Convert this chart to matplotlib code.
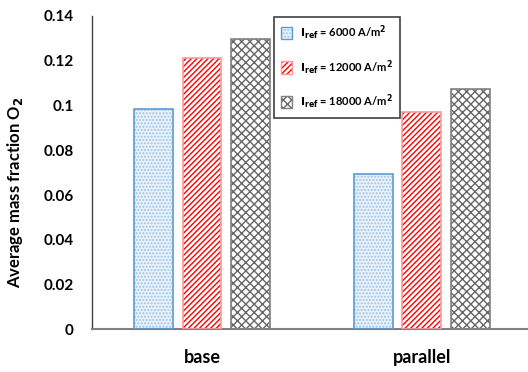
import numpy as np
import matplotlib
matplotlib.use('Agg')
import matplotlib.pyplot as plt
from matplotlib.legend_handler import HandlerTuple

plt.rcParams['font.family'] = ['Lato', 'DejaVu Sans']
plt.rcParams['font.weight'] = 'bold'
plt.rcParams['hatch.linewidth'] = 1.0

# dati: frazione di massa media O2 per configurazione e corrente di riferimento
configs = ['base', 'parallel']
serie_labels = [r'$\mathbf{I_{ref}}$ = 6000 A/m$^\mathbf{2}$',
                r'$\mathbf{I_{ref}}$ = 12000 A/m$^\mathbf{2}$',
                r'$\mathbf{I_{ref}}$ = 18000 A/m$^\mathbf{2}$']
i6000 = [0.0983, 0.0692]
i12000 = [0.1212, 0.0969]
i18000 = [0.1297, 0.1072]

valori = [i6000, i12000, i18000]
facce = ['#EAF3FB', 'white', 'white']
tratti = ['#9DC3E6', 'red', '#666666']
bordi = ['#5B9BD5', '#FF9999', '#7F7F7F']
hatches = ['.....', '//////', 'xxxx']

fig = plt.figure(figsize=(5.28, 3.72), dpi=100)
ax = fig.add_axes([0.1742, 0.1148, 0.8333, 0.8422])

x = np.arange(len(configs))
larghezza = 0.177
passo = 0.222
handles = []
for k, (v, hc, fc, ec) in enumerate(zip(valori, hatches, facce, bordi)):
    b = ax.bar(x + (k - 1) * passo, v, larghezza, color=fc, edgecolor=tratti[k],
               hatch=hc, linewidth=0, zorder=2)
    # bordo separato dal colore del tratteggio
    for r in b:
        ax.add_patch(plt.Rectangle(r.get_xy(), r.get_width(), r.get_height(),
                                   fill=False, edgecolor=ec, linewidth=1.2, zorder=3))
    bordo_leg = plt.Rectangle((0, 0), 1, 1, fill=False, edgecolor=ec, linewidth=1.0)
    handles.append((b.patches[0], bordo_leg))

ax.set_xlim(-0.5, 1.5)
ax.set_ylim(0, 0.14)
ax.set_yticks(np.arange(0, 0.141, 0.02))
ax.set_yticklabels(['0', '0.02', '0.04', '0.06', '0.08', '0.1', '0.12', '0.14'],
                   fontsize=11, fontweight='bold')
ax.set_xticks(x)
ax.set_xticklabels(configs, fontsize=13, fontweight='bold')
ax.tick_params(axis='both', length=0)
ax.tick_params(axis='y', pad=13)
ax.tick_params(axis='x', pad=14)

ax.set_ylabel(r'Average mass fraction O$_\mathbf{2}$', fontsize=12, fontweight='bold')
ax.yaxis.set_label_coords(-0.153, 0.438)

ax.spines['top'].set_visible(False)
ax.spines['right'].set_visible(False)
ax.spines['left'].set_color('#404040')
ax.spines['bottom'].set_color('#808080')
ax.spines['left'].set_linewidth(1.0)
ax.spines['bottom'].set_linewidth(1.5)

leg = ax.legend(handles, serie_labels, handler_map={tuple: HandlerTuple(ndivide=1)},
                loc='upper left', bbox_to_anchor=(0.4136, 0.997), fontsize=8,
                frameon=True, fancybox=False, edgecolor='#404040', framealpha=1,
                handlelength=1.0, handleheight=1.35, labelspacing=1.45,
                borderpad=0.6, handletextpad=0.75, borderaxespad=0)
leg.get_frame().set_linewidth(1.2)
leg.set_zorder(10)
for t in leg.get_texts():
    t.set_fontweight('bold')

fig.savefig('out.png', dpi=100)
